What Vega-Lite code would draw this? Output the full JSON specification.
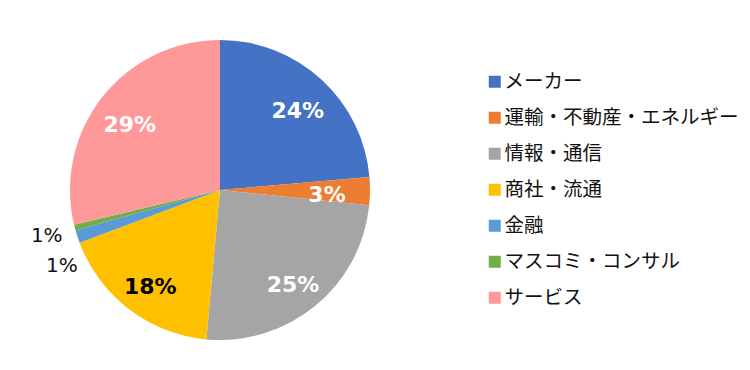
{
  "$schema": "https://vega.github.io/schema/vega-lite/v6.json",
  "width": 440,
  "height": 360,
  "padding": {"left": 0, "top": 10, "right": 0, "bottom": 0},
  "background": "white",
  "config": {"view": {"stroke": null}},
  "data": {
    "values": [
      {"category": "メーカー", "value": 0.236, "order": 1},
      {"category": "運輸・不動産・エネルギー", "value": 0.030, "order": 2},
      {"category": "情報・通信", "value": 0.248, "order": 3},
      {"category": "商社・流通", "value": 0.178, "order": 4},
      {"category": "金融", "value": 0.014, "order": 5},
      {"category": "マスコミ・コンサル", "value": 0.006, "order": 6},
      {"category": "サービス", "value": 0.287, "order": 7}
    ]
  },
  "encoding": {
    "theta": {"field": "value", "type": "quantitative", "stack": true},
    "order": {"field": "order", "type": "quantitative"}
  },
  "layer": [
    {
      "mark": {"type": "arc", "outerRadius": 150},
      "encoding": {
        "color": {
          "field": "category",
          "type": "nominal",
          "sort": null,
          "scale": {
            "domain": ["メーカー", "運輸・不動産・エネルギー", "情報・通信", "商社・流通", "金融", "マスコミ・コンサル", "サービス"],
            "range": ["#4472C4", "#ED7D31", "#A5A5A5", "#FFC000", "#5B9BD5", "#70AD47", "#FF9999"]
          },
          "legend": {
            "orient": "none",
            "legendX": 485,
            "legendY": 62,
            "title": null,
            "symbolType": "square",
            "symbolSize": 144,
            "symbolStrokeWidth": 0,
            "labelFontSize": 19.5,
            "labelFont": "Noto Sans CJK JP",
            "labelColor": "#111111",
            "labelLimit": 400,
            "labelOffset": 0,
            "rowPadding": 15
          }
        }
      }
    },
    {
      "mark": {"type": "text", "radius": 115, "dy": 6, "font": "DejaVu Sans", "fontSize": 22, "fontWeight": "bold"},
      "encoding": {
        "text": {"field": "value", "type": "quantitative", "format": ".0%"},
        "color": {"condition": {"test": "datum.category === '商社・流通'", "value": "#000000"}, "value": "#ffffff"},
        "opacity": {"condition": {"test": "datum.value < 0.05", "value": 0}, "value": 1}
      }
    },
    {
      "mark": {"type": "text", "radius": 107, "dy": 4, "font": "DejaVu Sans", "fontSize": 22, "fontWeight": "bold", "color": "#ffffff"},
      "encoding": {
        "text": {"field": "value", "type": "quantitative", "format": ".0%"},
        "opacity": {"condition": {"test": "datum.category === '運輸・不動産・エネルギー'", "value": 1}, "value": 0}
      }
    },
    {
      "mark": {"type": "text", "radius": 180, "font": "DejaVu Sans", "fontSize": 20, "dx": 13, "dy": 20, "color": "#111111"},
      "encoding": {
        "text": {"field": "value", "type": "quantitative", "format": ".0%"},
        "opacity": {"condition": {"test": "datum.category === '金融'", "value": 1}, "value": 0}
      }
    },
    {
      "mark": {"type": "text", "radius": 180, "font": "DejaVu Sans", "fontSize": 20, "dx": 1, "dy": 1, "color": "#111111"},
      "encoding": {
        "text": {"field": "value", "type": "quantitative", "format": ".0%"},
        "opacity": {"condition": {"test": "datum.category === 'マスコミ・コンサル'", "value": 1}, "value": 0}
      }
    }
  ]
}
